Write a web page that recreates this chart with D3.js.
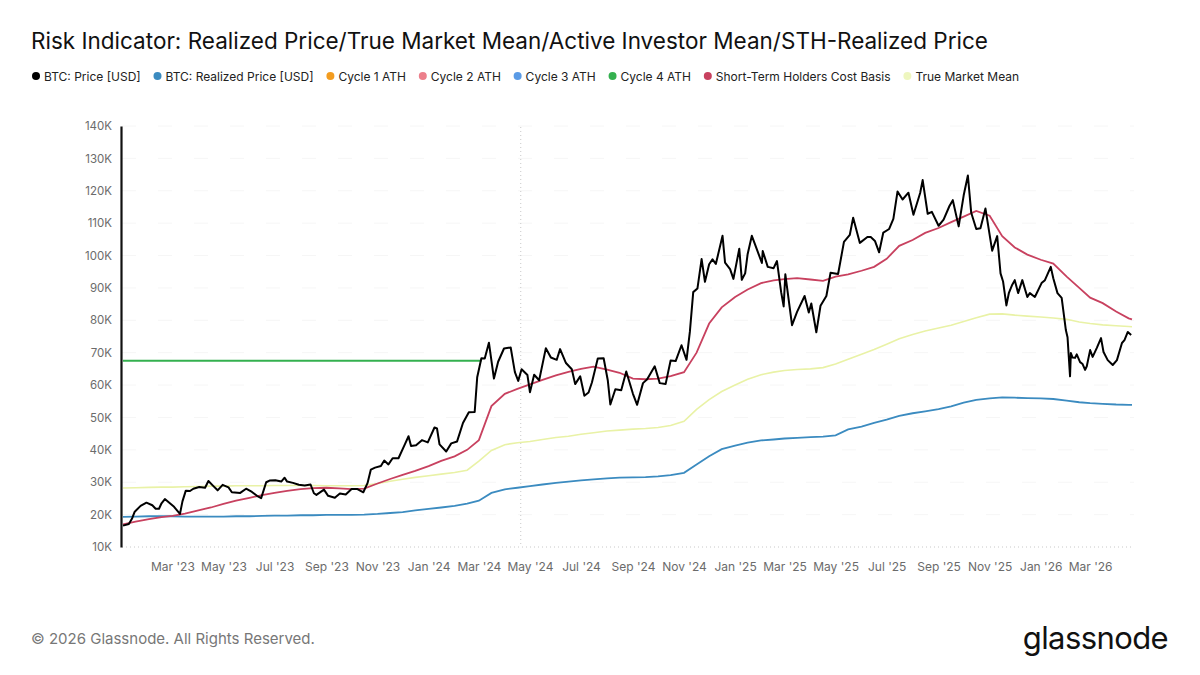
<!DOCTYPE html>
<html>
<head>
<meta charset="utf-8">
<script src="https://cdn.jsdelivr.net/npm/d3@7"></script>
<style>
  body { margin: 0; background: #fff; }
  svg { font-family: Inter, "Noto Sans", sans-serif; display: block; }
</style>
</head>
<body>
<script>
const width = 1200;
const height = 675;

// values in thousands of USD
const yTicks = [10, 20, 30, 40, 50, 60, 70, 80, 90, 100, 110, 120, 130, 140];

const legendNames = ["BTC: Price [USD]", "BTC: Realized Price [USD]", "Cycle 1 ATH", "Cycle 2 ATH",
    "Cycle 3 ATH", "Cycle 4 ATH", "Short-Term Holders Cost Basis", "True Market Mean"];
const legendColors = ["#000000", "#3b8bc0", "#f39c1f", "#ec7f8b", "#5a9be6", "#34b04f", "#c8415f", "#eef6bf"];

// BTC daily close samples [date, price K]
const btcPrice = [
    ["2023-01-01",16.6],["2023-01-08",17.1],["2023-01-12",18.9],["2023-01-15",20.9],["2023-01-22",22.7],
    ["2023-01-29",23.7],["2023-02-05",22.9],["2023-02-09",21.8],["2023-02-13",21.8],["2023-02-16",23.5],
    ["2023-02-20",24.8],["2023-02-26",23.5],["2023-03-03",22.4],["2023-03-10",20.2],["2023-03-13",24.1],
    ["2023-03-17",27.4],["2023-03-22",27.3],["2023-03-26",28.0],["2023-04-02",28.5],["2023-04-09",28.3],
    ["2023-04-13",30.4],["2023-04-19",28.8],["2023-04-24",27.5],["2023-04-30",29.2],["2023-05-07",28.4],
    ["2023-05-11",26.9],["2023-05-21",26.7],["2023-05-28",28.0],["2023-06-04",27.0],["2023-06-10",25.8],
    ["2023-06-15",25.1],["2023-06-21",30.0],["2023-06-25",30.5],["2023-07-02",30.6],["2023-07-09",30.2],
    ["2023-07-13",31.4],["2023-07-16",30.2],["2023-07-23",29.8],["2023-07-30",29.2],["2023-08-06",29.0],
    ["2023-08-13",29.3],["2023-08-17",26.6],["2023-08-20",26.1],["2023-08-29",27.7],["2023-09-03",25.8],
    ["2023-09-11",25.2],["2023-09-17",26.5],["2023-09-24",26.2],["2023-10-01",27.9],["2023-10-08",27.9],
    ["2023-10-15",26.9],["2023-10-20",29.7],["2023-10-24",33.9],["2023-10-29",34.5],["2023-11-05",35.0],
    ["2023-11-09",36.7],["2023-11-14",35.5],["2023-11-19",37.4],["2023-11-26",37.4],["2023-12-04",41.9],
    ["2023-12-08",44.2],["2023-12-11",41.2],["2023-12-17",41.4],["2023-12-24",43.0],["2023-12-31",42.3],
    ["2024-01-08",46.9],["2024-01-11",46.6],["2024-01-14",41.7],["2024-01-22",39.5],["2024-01-28",42.0],
    ["2024-02-04",42.6],["2024-02-11",48.3],["2024-02-18",51.6],["2024-02-25",51.7],["2024-02-28",62.4],
    ["2024-03-04",68.3],["2024-03-08",68.2],["2024-03-13",73.1],["2024-03-19",62.0],["2024-03-24",67.2],
    ["2024-03-31",71.3],["2024-04-08",71.6],["2024-04-13",64.0],["2024-04-17",61.3],["2024-04-21",64.9],
    ["2024-04-28",63.1],["2024-05-01",57.8],["2024-05-06",63.2],["2024-05-12",61.5],["2024-05-20",71.4],
    ["2024-05-26",68.5],["2024-06-02",67.8],["2024-06-06",71.1],["2024-06-13",66.8],["2024-06-20",64.9],
    ["2024-06-24",60.3],["2024-06-30",62.7],["2024-07-05",56.7],["2024-07-10",57.7],["2024-07-14",60.8],
    ["2024-07-21",68.2],["2024-07-28",68.3],["2024-08-02",61.4],["2024-08-05",54.0],["2024-08-11",58.7],
    ["2024-08-18",58.4],["2024-08-24",64.2],["2024-09-01",57.3],["2024-09-06",53.9],["2024-09-13",60.6],
    ["2024-09-18",61.8],["2024-09-27",65.8],["2024-10-03",60.6],["2024-10-10",60.3],["2024-10-16",67.6],
    ["2024-10-22",67.4],["2024-10-29",72.3],["2024-11-04",67.8],["2024-11-08",76.5],["2024-11-12",88.7],
    ["2024-11-17",89.8],["2024-11-22",98.9],["2024-11-26",91.9],["2024-12-01",97.3],["2024-12-05",98.8],
    ["2024-12-09",97.4],["2024-12-17",106.1],["2024-12-20",97.8],["2024-12-26",95.8],["2024-12-30",92.8],
    ["2025-01-06",102.1],["2025-01-09",92.5],["2025-01-13",94.5],["2025-01-16",100.5],["2025-01-21",106.1],
    ["2025-01-26",102.6],["2025-02-02",97.7],["2025-02-03",101.4],["2025-02-09",96.5],["2025-02-16",96.1],
    ["2025-02-20",98.3],["2025-02-25",88.7],["2025-02-28",84.3],["2025-03-02",94.2],["2025-03-10",78.5],
    ["2025-03-16",82.6],["2025-03-25",87.5],["2025-03-30",82.4],["2025-04-02",85.2],["2025-04-08",76.3],
    ["2025-04-13",84.5],["2025-04-20",87.5],["2025-04-25",94.7],["2025-05-04",94.3],["2025-05-11",104.2],
    ["2025-05-18",106.4],["2025-05-22",111.7],["2025-05-30",103.9],["2025-06-08",105.7],["2025-06-12",105.7],
    ["2025-06-17",104.5],["2025-06-22",101.0],["2025-06-27",107.1],["2025-07-04",108.2],["2025-07-09",111.3],
    ["2025-07-14",119.8],["2025-07-20",117.3],["2025-07-27",119.4],["2025-08-02",112.6],["2025-08-10",119.3],
    ["2025-08-13",123.3],["2025-08-19",112.9],["2025-08-24",113.5],["2025-09-01",109.2],["2025-09-07",111.1],
    ["2025-09-14",115.3],["2025-09-18",117.1],["2025-09-25",109.0],["2025-10-01",118.6],["2025-10-06",124.7],
    ["2025-10-10",113.2],["2025-10-16",108.2],["2025-10-21",108.4],["2025-10-27",114.5],["2025-11-04",101.5],
    ["2025-11-10",106.0],["2025-11-14",94.5],["2025-11-17",92.0],["2025-11-21",84.6],["2025-11-24",88.5],
    ["2025-11-28",91.0],["2025-12-01",92.4],["2025-12-05",88.4],["2025-12-10",92.4],["2025-12-16",87.2],
    ["2025-12-19",88.4],["2025-12-25",87.2],["2026-01-02",91.5],["2026-01-06",92.4],["2026-01-13",96.5],
    ["2026-01-16",93.0],["2026-01-21",88.4],["2026-01-26",86.9],["2026-01-29",81.0],["2026-01-31",77.0],
    ["2026-02-02",74.8],["2026-02-05",62.7],["2026-02-06",69.9],["2026-02-08",68.5],["2026-02-11",68.4],
    ["2026-02-13",69.5],["2026-02-17",67.1],["2026-02-20",66.5],["2026-02-23",64.7],["2026-02-25",65.8],
    ["2026-03-01",70.8],["2026-03-04",68.7],["2026-03-09",71.5],["2026-03-14",74.5],["2026-03-17",70.2],
    ["2026-03-22",67.7],["2026-03-28",66.2],["2026-04-02",67.7],["2026-04-08",73.0],["2026-04-11",73.9],
    ["2026-04-15",76.4],["2026-04-19",75.5]
];

// slow series, sampled on the 1st and 16th of each month, last point 2026-04-20
const realizedPrice = [
    19.3, 19.4, 19.5, 19.5, 19.5, 19.4, 19.4, 19.4, 19.4, 19.5, 19.5, 19.6,
    19.7, 19.7, 19.8, 19.8, 19.9, 19.9, 19.9, 20.0, 20.2, 20.5, 20.8, 21.3,
    21.8, 22.2, 22.7, 23.4, 24.3, 26.7, 27.8, 28.3, 28.8, 29.3, 29.8, 30.2,
    30.6, 30.9, 31.2, 31.4, 31.5, 31.6, 31.8, 32.2, 32.9, 35.5, 38.0, 40.2,
    41.3, 42.2, 42.9, 43.2, 43.5, 43.7, 43.9, 44.1, 44.5, 46.3, 47.2, 48.3,
    49.3, 50.5, 51.3, 51.9, 52.6, 53.4, 54.6, 55.4, 55.9, 56.2, 56.1, 56.0,
    55.9, 55.7, 55.2, 54.7, 54.4, 54.2, 54.0, 53.9, 53.9
];
const sthCostBasis = [
    17.0, 17.8, 18.6, 19.2, 19.6, 20.3, 21.3, 22.2, 23.3, 24.3, 25.2, 26.0,
    26.7, 27.3, 27.9, 28.2, 28.3, 28.1, 27.9, 28.0, 29.6, 31.0, 32.3, 33.5,
    35.0, 36.6, 38.0, 40.0, 43.0, 53.5, 57.3, 58.8, 60.2, 61.6, 63.0, 64.1,
    65.0, 65.7, 64.8, 63.8, 62.0, 61.8, 62.0, 62.8, 64.0, 70.0, 79.0, 84.0,
    87.2, 89.5, 91.5, 92.3, 92.7, 93.0, 92.6, 92.2, 93.5, 94.2, 95.3, 96.5,
    99.0, 103.0, 104.8, 107.0, 108.5, 110.3, 112.0, 113.8, 112.3, 106.0, 102.5, 100.3,
    98.7, 97.5, 93.5, 90.0, 87.0, 85.3, 82.7, 80.6, 80.3
];
const trueMarketMean = [
    28.2, 28.3, 28.4, 28.5, 28.5, 28.6, 28.7, 28.8, 28.8, 28.9, 28.9, 28.9,
    29.0, 29.0, 29.0, 29.0, 28.9, 28.9, 28.9, 29.0, 29.6, 30.3, 30.9, 31.5,
    32.0, 32.5, 33.0, 33.7, 36.5, 39.8, 41.6, 42.2, 42.6, 43.2, 43.8, 44.2,
    44.8, 45.3, 45.8, 46.1, 46.4, 46.6, 46.9, 47.5, 48.8, 52.5, 55.5, 58.0,
    60.0, 61.8, 63.2, 64.0, 64.5, 64.8, 65.0, 65.4, 66.5, 68.0, 69.5, 71.0,
    72.6, 74.3, 75.6, 76.7, 77.6, 78.5, 79.6, 80.8, 81.9, 82.0, 81.6, 81.3,
    81.0, 80.7, 80.3, 79.5, 79.0, 78.6, 78.3, 78.1, 78.0
];

const cycle4Ath = 67.55;
const cycle4AthDates = ["2023-01-01", "2024-03-04"];
const halvingDate = "2024-04-20";
const startDate = "2023-01-01";
const endDate = "2026-04-20";

const parse = d3.timeParse("%Y-%m-%d");

// dates for the slow series
let slowDates = [];
for (let yr = 2023; yr <= 2026; yr++) {
    for (let m = 0; m < 12; m++) {
        if (yr === 2026 && m > 3) break;
        slowDates.push(new Date(yr, m, 1));
        slowDates.push(new Date(yr, m, 16));
    }
}
slowDates.push(parse(endDate));

let svg = d3.select("body").append("svg")
    .attr("width", width)
    .attr("height", height)
    .style("background", "#fff");

let x = d3.scaleTime()
    .domain([parse(startDate), parse(endDate)])
    .range([123, 1132]);

let y = d3.scaleLinear()
    .domain([10, 140])
    .range([547, 126]);

// title
svg.append("text")
    .attr("x", 31)
    .attr("y", 49)
    .attr("font-size", 22.5)
    .attr("fill", "#111")
    .text("Risk Indicator: Realized Price/True Market Mean/Active Investor Mean/STH-Realized Price");

// legend, laid out left to right
let lx = 36;
legendNames.forEach((name, i) => {
    svg.append("circle")
        .attr("cx", lx)
        .attr("cy", 76)
        .attr("r", 4)
        .attr("fill", legendColors[i]);
    let t = svg.append("text")
        .attr("x", lx + 8)
        .attr("y", 80.5)
        .attr("font-size", 12)
        .attr("fill", "#222")
        .text(name);
    lx += 8 + t.node().getComputedTextLength() + 16.8;
});

// faint grid
svg.append("g")
    .selectAll("line")
    .data(yTicks.filter(d => d > 10))
    .enter()
    .append("line")
    .attr("x1", 122).attr("x2", 1134)
    .attr("y1", d => y(d)).attr("y2", d => y(d))
    .attr("stroke", "#f6f6f6")
    .attr("stroke-dasharray", "14,22");

svg.append("line")
    .attr("x1", 122).attr("x2", 1134)
    .attr("y1", y(10)).attr("y2", y(10))
    .attr("stroke", "#c8c8c8")
    .attr("stroke-dasharray", "1,3");

svg.append("line")
    .attr("x1", x(parse(halvingDate))).attr("x2", x(parse(halvingDate)))
    .attr("y1", 127).attr("y2", 547)
    .attr("stroke", "#c8c8c8")
    .attr("stroke-dasharray", "1,3");

// axes
let yAxis = svg.append("g")
    .attr("transform", "translate(121,0)")
    .call(d3.axisLeft(y).tickValues(yTicks).tickSize(0).tickPadding(9).tickFormat(d => d + "K"));
yAxis.select(".domain").attr("stroke", "#111").attr("stroke-width", 2.2);
yAxis.selectAll("text").attr("font-family", "Inter, sans-serif").attr("font-size", 11.5).attr("fill", "#6b6b6b");

let xTicks = d3.timeMonth.every(2).range(new Date(2023, 2, 1), new Date(2026, 3, 2));
let xAxis = svg.append("g")
    .attr("transform", "translate(0,547)")
    .call(d3.axisBottom(x).tickValues(xTicks).tickSize(0).tickPadding(15).tickFormat(d3.timeFormat("%b '%y")));
xAxis.select(".domain").remove();
xAxis.selectAll("text").attr("font-family", "Inter, sans-serif").attr("font-size", 12).attr("fill", "#6b6b6b");

// lines
let slowLine = d3.line()
    .x((d, i) => x(slowDates[i]))
    .y(d => y(d));

svg.append("path")
    .datum(trueMarketMean)
    .attr("d", slowLine)
    .attr("fill", "none")
    .attr("stroke", "#e9f2a6")
    .attr("stroke-width", 1.6);

svg.append("path")
    .datum(realizedPrice)
    .attr("d", slowLine)
    .attr("fill", "none")
    .attr("stroke", "#3b8bc0")
    .attr("stroke-width", 1.8);

svg.append("path")
    .datum(sthCostBasis)
    .attr("d", slowLine)
    .attr("fill", "none")
    .attr("stroke", "#c8415f")
    .attr("stroke-width", 1.8);

svg.append("path")
    .datum(cycle4AthDates)
    .attr("d", d3.line().x(d => x(parse(d))).y(() => y(cycle4Ath)))
    .attr("fill", "none")
    .attr("stroke", "#34b04f")
    .attr("stroke-width", 2);

svg.append("path")
    .datum(btcPrice)
    .attr("d", d3.line().x(d => x(parse(d[0]))).y(d => y(d[1])))
    .attr("fill", "none")
    .attr("stroke", "#000")
    .attr("stroke-width", 2)
    .attr("stroke-linejoin", "round");

// footer
svg.append("text")
    .attr("x", 31)
    .attr("y", 644)
    .attr("font-size", 15)
    .attr("fill", "#777")
    .text("© 2026 Glassnode. All Rights Reserved.");

svg.append("text")
    .attr("x", 1168)
    .attr("y", 649)
    .attr("text-anchor", "end")
    .attr("font-size", 31)
    .attr("letter-spacing", -0.6)
    .attr("fill", "#111")
    .text("glassnode");
</script>
</body>
</html>
